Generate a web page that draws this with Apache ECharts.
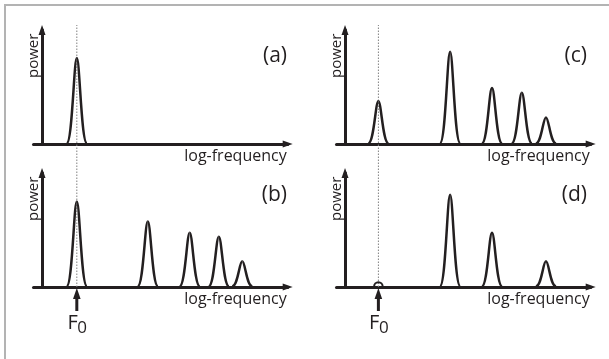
<!DOCTYPE html>
<html><head><meta charset="utf-8">
<script src="https://cdn.jsdelivr.net/npm/echarts@6/dist/echarts.min.js"></script>
<style>html,body{margin:0;padding:0;background:#fff}#c{width:609px;height:359px}</style>
</head><body><div id="c"></div>
<script>
// ---- data ----
const panelLabels = ['(a)', '(b)', '(c)', '(d)'];
const xAxisName = 'log-frequency';
const yAxisName = 'power';
const f0Text = 'F';
const f0Sub = '0';
// peak positions on log-frequency axis (octaves right of the power axis)
const peaksA_x = [0.49];
const peaksA_y = [0.905];
const peaksB_x = [0.49, 1.49, 2.08, 2.49, 2.82];
const peaksB_y = [0.90, 0.69, 0.57, 0.53, 0.27];
const peaksC_x = [0.47, 1.48, 2.07, 2.49, 2.83];
const peaksC_y = [0.45, 0.97, 0.59, 0.54, 0.28];
const peaksD_x = [0.47, 1.48, 2.07, 2.83];
const peaksD_y = [0.045, 0.97, 0.57, 0.27];
const f0Left = 0.49;
const f0Right = 0.47;

// ---- styling / layout ----
const ink = '#231f20';
const font = '"Open Sans", "Noto Sans", sans-serif';
const X_MIN = -0.12, X_MAX = 3.46, Y_MAX = 1.2;
const colLeft = [33.5, 336.5];
const W = 254.2;
const rowTop = [30, 173];
const H = 114;

const chart = echarts.init(document.getElementById('c'), null, {renderer: 'canvas'});

const panels = [
  {x: peaksA_x, y: peaksA_y, col: 0, row: 0},
  {x: peaksB_x, y: peaksB_y, col: 0, row: 1},
  {x: peaksC_x, y: peaksC_y, col: 1, row: 0},
  {x: peaksD_x, y: peaksD_y, col: 1, row: 1}
];

const grids = [], xAxes = [], yAxes = [], series = [], titles = [];
panels.forEach((p, i) => {
  grids.push({left: colLeft[p.col], top: rowTop[p.row], width: W, height: H});
  xAxes.push({
    type: 'value', gridIndex: i, min: X_MIN, max: X_MAX,
    axisLine: {show: true, onZero: true, symbol: ['none', 'triangle'], symbolSize: [7, 10],
      lineStyle: {color: ink, width: 3}},
    axisTick: {show: false}, axisLabel: {show: false}, splitLine: {show: false},
    name: xAxisName, nameLocation: 'end', nameGap: -1,
    nameTextStyle: {fontFamily: font, fontSize: 16, color: ink, align: 'right', verticalAlign: 'top', padding: [4, 0, 0, 0]}
  });
  yAxes.push({
    type: 'value', gridIndex: i, min: 0, max: Y_MAX,
    axisLine: {show: true, onZero: true, symbol: ['none', 'triangle'], symbolSize: [7, 10],
      lineStyle: {color: ink, width: 3}},
    axisTick: {show: false}, axisLabel: {show: false}, splitLine: {show: false},
    name: yAxisName, nameLocation: 'end', nameRotate: 90, nameGap: -48,
    nameTextStyle: {fontFamily: font, fontSize: 15, color: ink, verticalAlign: 'bottom', padding: [0, 0, 1, 0]}
  });
  series.push({
    type: 'custom', xAxisIndex: i, yAxisIndex: i, clip: false, z: 3,
    data: p.x.map((v, k) => [v, p.y[k]]),
    renderItem: function (params, api) {
      const x = api.value(0), h = api.value(1);
      const b = api.coord([x, 0]), t = api.coord([x, h]);
      const hp = b[1] - t[1];
      const cx = b[0], by = b[1] - 0.5, ty = t[1];
      const st = {fill: 'none', stroke: ink, lineWidth: 2.5};
      if (hp < 10) {
        // tiny residual bump drawn as a small arc of the peak's height
        return {type: 'arc', shape: {cx: cx, cy: by, r: hp, startAngle: Math.PI, endAngle: 2 * Math.PI}, style: {fill: 'none', stroke: ink, lineWidth: 2}};
      }
      const s = 3.4;
      return {type: 'group', children: [
        {type: 'bezierCurve', shape: {x1: cx - 3 * s, y1: by, cpx1: cx - 1.285 * s, cpy1: by, cpx2: cx - 0.855 * s, cpy2: ty, x2: cx, y2: ty}, style: st},
        {type: 'bezierCurve', shape: {x1: cx, y1: ty, cpx1: cx + 0.855 * s, cpy1: ty, cpx2: cx + 1.285 * s, cpy2: by, x2: cx + 3 * s, y2: by}, style: st}
      ]};
    }
  });
  titles.push({
    text: panelLabels[i], padding: 0,
    right: p.col === 0 ? 322 : 22, top: p.row === 0 ? 46 : 185,
    textStyle: {fontFamily: font, fontSize: 21, fontWeight: 'normal', color: ink}
  });
});

// overlay grids for the dotted F0 guide lines spanning both rows
[0, 1].forEach(c => {
  const gi = grids.length;
  grids.push({left: colLeft[c], top: 25, width: W, height: 262});
  xAxes.push({type: 'value', gridIndex: gi, min: X_MIN, max: X_MAX, show: false});
  yAxes.push({type: 'value', gridIndex: gi, min: 0, max: 1, show: false});
  const f0 = c === 0 ? f0Left : f0Right;
  series.push({
    type: 'line', xAxisIndex: gi, yAxisIndex: gi, symbol: 'none', z: 1, silent: true,
    data: [[f0, 0], [f0, 1]],
    lineStyle: {color: '#808080', width: 1, type: [1.5, 1.5]}
  });
});

// F0 arrows below panels (b) and (d)
[[1, f0Left], [3, f0Right]].forEach(([gi, f0]) => {
  series.push({
    type: 'custom', xAxisIndex: gi, yAxisIndex: gi, clip: false, z: 4,
    data: [[f0, 0]],
    renderItem: function (params, api) {
      const pt = api.coord([api.value(0), 0]);
      const x = pt[0], y = pt[1];
      return {type: 'group', children: [
        {type: 'rect', shape: {x: x - 1.5, y: y + 10, width: 3, height: 14}, style: {fill: ink}},
        {type: 'polygon', shape: {points: [[x, y + 1], [x - 3.8, y + 12], [x + 3.8, y + 12]]}, style: {fill: ink}},
        {type: 'text', style: {text: f0Text, x: x + 1, y: y + 36, align: 'right', verticalAlign: 'middle', fontFamily: font, fontSize: 20, fill: ink}},
        {type: 'text', style: {text: f0Sub, x: x + 0.5, y: y + 41, align: 'left', verticalAlign: 'middle', fontFamily: font, fontSize: 17, fill: ink}}
      ]};
    }
  });
});

chart.setOption({
  animation: false,
  backgroundColor: '#fff',
  title: titles,
  grid: grids,
  xAxis: xAxes,
  yAxis: yAxes,
  series: series,
  graphic: [
    {type: 'line', shape: {x1: 4, y1: 5, x2: 609, y2: 5}, style: {stroke: '#b3b3b3', lineWidth: 2}},
    {type: 'line', shape: {x1: 5, y1: 4, x2: 5, y2: 359}, style: {stroke: '#b3b3b3', lineWidth: 2}}
  ]
});
</script></body></html>
